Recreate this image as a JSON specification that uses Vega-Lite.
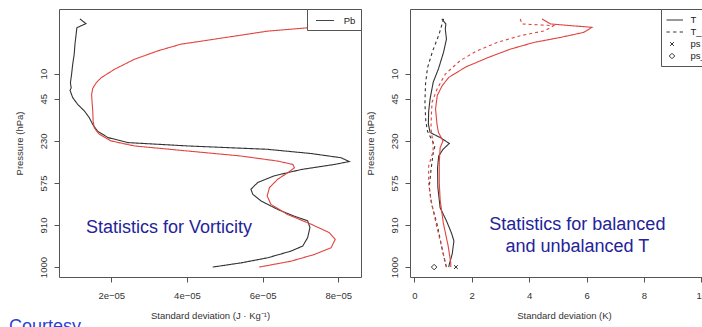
{
  "$schema": "https://vega.github.io/schema/vega-lite/v6.json",
  "background": "white",
  "padding": {"left": 8, "top": 8, "right": 0, "bottom": 0},
  "spacing": 49,
  "bounds": "flush",
  "datasets": {
    "vort": [
      {"method": "A", "series": "Pb", "level": 1.0, "sd": 1.17e-5},
      {"method": "A", "series": "Pb", "level": 2.1, "sd": 1.33e-5},
      {"method": "A", "series": "Pb", "level": 3.1, "sd": 1.09e-5},
      {"method": "A", "series": "Pb", "level": 4.7, "sd": 1.07e-5},
      {"method": "A", "series": "Pb", "level": 7.0, "sd": 1.04e-5},
      {"method": "A", "series": "Pb", "level": 9.4, "sd": 1.02e-5},
      {"method": "A", "series": "Pb", "level": 11.8, "sd": 0.98e-5},
      {"method": "A", "series": "Pb", "level": 14.2, "sd": 0.95e-5},
      {"method": "A", "series": "Pb", "level": 16.2, "sd": 0.92e-5},
      {"method": "A", "series": "Pb", "level": 17.4, "sd": 0.94e-5},
      {"method": "A", "series": "Pb", "level": 18.0, "sd": 0.91e-5},
      {"method": "A", "series": "Pb", "level": 19.7, "sd": 0.98e-5},
      {"method": "A", "series": "Pb", "level": 21.3, "sd": 1.11e-5},
      {"method": "A", "series": "Pb", "level": 22.9, "sd": 1.29e-5},
      {"method": "A", "series": "Pb", "level": 24.5, "sd": 1.42e-5},
      {"method": "A", "series": "Pb", "level": 26.1, "sd": 1.51e-5},
      {"method": "A", "series": "Pb", "level": 27.7, "sd": 1.64e-5},
      {"method": "A", "series": "Pb", "level": 29.2, "sd": 1.91e-5},
      {"method": "A", "series": "Pb", "level": 30.4, "sd": 2.43e-5},
      {"method": "A", "series": "Pb", "level": 31.2, "sd": 4.02e-5},
      {"method": "A", "series": "Pb", "level": 32.0, "sd": 6.13e-5},
      {"method": "A", "series": "Pb", "level": 33.0, "sd": 7.28e-5},
      {"method": "A", "series": "Pb", "level": 34.0, "sd": 8.07e-5},
      {"method": "A", "series": "Pb", "level": 34.9, "sd": 8.29e-5},
      {"method": "A", "series": "Pb", "level": 35.6, "sd": 7.90e-5},
      {"method": "A", "series": "Pb", "level": 36.8, "sd": 7.02e-5},
      {"method": "A", "series": "Pb", "level": 38.3, "sd": 6.31e-5},
      {"method": "A", "series": "Pb", "level": 39.9, "sd": 5.87e-5},
      {"method": "A", "series": "Pb", "level": 41.5, "sd": 5.69e-5},
      {"method": "A", "series": "Pb", "level": 42.7, "sd": 5.74e-5},
      {"method": "A", "series": "Pb", "level": 44.3, "sd": 5.96e-5},
      {"method": "A", "series": "Pb", "level": 46.3, "sd": 6.40e-5},
      {"method": "A", "series": "Pb", "level": 47.9, "sd": 6.84e-5},
      {"method": "A", "series": "Pb", "level": 49.0, "sd": 7.19e-5},
      {"method": "A", "series": "Pb", "level": 50.6, "sd": 7.25e-5},
      {"method": "A", "series": "Pb", "level": 53.0, "sd": 7.19e-5},
      {"method": "A", "series": "Pb", "level": 55.0, "sd": 7.06e-5},
      {"method": "A", "series": "Pb", "level": 56.2, "sd": 6.75e-5},
      {"method": "A", "series": "Pb", "level": 57.8, "sd": 6.13e-5},
      {"method": "A", "series": "Pb", "level": 59.0, "sd": 5.43e-5},
      {"method": "A", "series": "Pb", "level": 60.0, "sd": 4.68e-5},
      {"method": "B", "series": "Pb", "level": 3.1, "sd": 7.19e-5},
      {"method": "B", "series": "Pb", "level": 3.9, "sd": 6.13e-5},
      {"method": "B", "series": "Pb", "level": 5.1, "sd": 5.25e-5},
      {"method": "B", "series": "Pb", "level": 6.3, "sd": 4.37e-5},
      {"method": "B", "series": "Pb", "level": 7.0, "sd": 3.84e-5},
      {"method": "B", "series": "Pb", "level": 8.6, "sd": 3.23e-5},
      {"method": "B", "series": "Pb", "level": 10.6, "sd": 2.61e-5},
      {"method": "B", "series": "Pb", "level": 13.0, "sd": 2.08e-5},
      {"method": "B", "series": "Pb", "level": 15.0, "sd": 1.73e-5},
      {"method": "B", "series": "Pb", "level": 16.2, "sd": 1.60e-5},
      {"method": "B", "series": "Pb", "level": 17.5, "sd": 1.51e-5},
      {"method": "B", "series": "Pb", "level": 18.9, "sd": 1.48e-5},
      {"method": "B", "series": "Pb", "level": 20.5, "sd": 1.49e-5},
      {"method": "B", "series": "Pb", "level": 22.9, "sd": 1.51e-5},
      {"method": "B", "series": "Pb", "level": 25.3, "sd": 1.52e-5},
      {"method": "B", "series": "Pb", "level": 26.9, "sd": 1.55e-5},
      {"method": "B", "series": "Pb", "level": 28.4, "sd": 1.68e-5},
      {"method": "B", "series": "Pb", "level": 30.0, "sd": 1.99e-5},
      {"method": "B", "series": "Pb", "level": 31.2, "sd": 2.61e-5},
      {"method": "B", "series": "Pb", "level": 32.4, "sd": 4.02e-5},
      {"method": "B", "series": "Pb", "level": 33.6, "sd": 5.43e-5},
      {"method": "B", "series": "Pb", "level": 34.8, "sd": 6.40e-5},
      {"method": "B", "series": "Pb", "level": 35.6, "sd": 6.80e-5},
      {"method": "B", "series": "Pb", "level": 36.4, "sd": 6.84e-5},
      {"method": "B", "series": "Pb", "level": 37.6, "sd": 6.66e-5},
      {"method": "B", "series": "Pb", "level": 39.1, "sd": 6.40e-5},
      {"method": "B", "series": "Pb", "level": 41.1, "sd": 6.18e-5},
      {"method": "B", "series": "Pb", "level": 43.1, "sd": 6.12e-5},
      {"method": "B", "series": "Pb", "level": 45.1, "sd": 6.22e-5},
      {"method": "B", "series": "Pb", "level": 47.5, "sd": 6.66e-5},
      {"method": "B", "series": "Pb", "level": 49.8, "sd": 7.28e-5},
      {"method": "B", "series": "Pb", "level": 51.8, "sd": 7.76e-5},
      {"method": "B", "series": "Pb", "level": 53.4, "sd": 7.92e-5},
      {"method": "B", "series": "Pb", "level": 55.4, "sd": 7.81e-5},
      {"method": "B", "series": "Pb", "level": 57.0, "sd": 7.37e-5},
      {"method": "B", "series": "Pb", "level": 58.6, "sd": 6.75e-5},
      {"method": "B", "series": "Pb", "level": 60.0, "sd": 5.91e-5}
    ],
    "temp": [
      {"method": "A", "kind": "T", "level": 1.0, "sd": 0.96},
      {"method": "A", "kind": "T", "level": 2.2, "sd": 1.10},
      {"method": "A", "kind": "T", "level": 3.4, "sd": 1.08},
      {"method": "A", "kind": "T", "level": 5.8, "sd": 1.12},
      {"method": "A", "kind": "T", "level": 8.9, "sd": 1.02},
      {"method": "A", "kind": "T", "level": 12.9, "sd": 0.84},
      {"method": "A", "kind": "T", "level": 16.0, "sd": 0.66},
      {"method": "A", "kind": "T", "level": 20.0, "sd": 0.55},
      {"method": "A", "kind": "T", "level": 23.0, "sd": 0.50},
      {"method": "A", "kind": "T", "level": 26.0, "sd": 0.49},
      {"method": "A", "kind": "T", "level": 28.0, "sd": 0.55},
      {"method": "A", "kind": "T", "level": 29.2, "sd": 0.90},
      {"method": "A", "kind": "T", "level": 30.6, "sd": 1.22},
      {"method": "A", "kind": "T", "level": 32.0, "sd": 1.00},
      {"method": "A", "kind": "T", "level": 33.6, "sd": 0.85},
      {"method": "A", "kind": "T", "level": 36.4, "sd": 0.81},
      {"method": "A", "kind": "T", "level": 41.0, "sd": 0.82},
      {"method": "A", "kind": "T", "level": 45.9, "sd": 0.90},
      {"method": "A", "kind": "T", "level": 49.0, "sd": 1.12},
      {"method": "A", "kind": "T", "level": 52.0, "sd": 1.30},
      {"method": "A", "kind": "T", "level": 53.8, "sd": 1.38},
      {"method": "A", "kind": "T", "level": 56.9, "sd": 1.32},
      {"method": "A", "kind": "T", "level": 59.3, "sd": 1.22},
      {"method": "A", "kind": "T", "level": 60.0, "sd": 1.20},
      {"method": "A", "kind": "T_U", "level": 1.0, "sd": 1.02},
      {"method": "A", "kind": "T_U", "level": 4.7, "sd": 0.86},
      {"method": "A", "kind": "T_U", "level": 8.6, "sd": 0.64},
      {"method": "A", "kind": "T_U", "level": 12.6, "sd": 0.46},
      {"method": "A", "kind": "T_U", "level": 16.5, "sd": 0.39},
      {"method": "A", "kind": "T_U", "level": 21.0, "sd": 0.37},
      {"method": "A", "kind": "T_U", "level": 25.3, "sd": 0.40},
      {"method": "A", "kind": "T_U", "level": 27.7, "sd": 0.46},
      {"method": "A", "kind": "T_U", "level": 29.6, "sd": 0.60},
      {"method": "A", "kind": "T_U", "level": 31.2, "sd": 0.72},
      {"method": "A", "kind": "T_U", "level": 32.8, "sd": 0.66},
      {"method": "A", "kind": "T_U", "level": 37.0, "sd": 0.58},
      {"method": "A", "kind": "T_U", "level": 41.0, "sd": 0.52},
      {"method": "A", "kind": "T_U", "level": 45.0, "sd": 0.60},
      {"method": "A", "kind": "T_U", "level": 50.0, "sd": 0.80},
      {"method": "A", "kind": "T_U", "level": 55.0, "sd": 0.95},
      {"method": "A", "kind": "T_U", "level": 58.5, "sd": 1.06},
      {"method": "A", "kind": "T_U", "level": 60.0, "sd": 1.12},
      {"method": "B", "kind": "T", "level": 1.0, "sd": 4.45},
      {"method": "B", "kind": "T", "level": 2.2, "sd": 4.74},
      {"method": "B", "kind": "T", "level": 3.0, "sd": 6.19},
      {"method": "B", "kind": "T", "level": 4.2, "sd": 5.90},
      {"method": "B", "kind": "T", "level": 5.4, "sd": 5.09},
      {"method": "B", "kind": "T", "level": 6.6, "sd": 4.16},
      {"method": "B", "kind": "T", "level": 8.2, "sd": 3.34},
      {"method": "B", "kind": "T", "level": 10.1, "sd": 2.60},
      {"method": "B", "kind": "T", "level": 12.4, "sd": 1.80},
      {"method": "B", "kind": "T", "level": 14.9, "sd": 1.20},
      {"method": "B", "kind": "T", "level": 16.9, "sd": 0.97},
      {"method": "B", "kind": "T", "level": 19.2, "sd": 0.80},
      {"method": "B", "kind": "T", "level": 22.4, "sd": 0.74},
      {"method": "B", "kind": "T", "level": 26.0, "sd": 0.79},
      {"method": "B", "kind": "T", "level": 28.0, "sd": 0.84},
      {"method": "B", "kind": "T", "level": 30.0, "sd": 1.00},
      {"method": "B", "kind": "T", "level": 31.6, "sd": 0.90},
      {"method": "B", "kind": "T", "level": 35.0, "sd": 0.87},
      {"method": "B", "kind": "T", "level": 40.0, "sd": 0.87},
      {"method": "B", "kind": "T", "level": 44.0, "sd": 0.90},
      {"method": "B", "kind": "T", "level": 49.5, "sd": 1.01},
      {"method": "B", "kind": "T", "level": 55.0, "sd": 1.18},
      {"method": "B", "kind": "T", "level": 59.0, "sd": 1.27},
      {"method": "B", "kind": "T", "level": 60.0, "sd": 1.27},
      {"method": "B", "kind": "T_U", "level": 1.0, "sd": 3.69},
      {"method": "B", "kind": "T_U", "level": 2.2, "sd": 3.75},
      {"method": "B", "kind": "T_U", "level": 2.6, "sd": 4.85},
      {"method": "B", "kind": "T_U", "level": 3.8, "sd": 4.55},
      {"method": "B", "kind": "T_U", "level": 5.0, "sd": 3.69},
      {"method": "B", "kind": "T_U", "level": 6.6, "sd": 2.88},
      {"method": "B", "kind": "T_U", "level": 8.6, "sd": 2.18},
      {"method": "B", "kind": "T_U", "level": 10.9, "sd": 1.60},
      {"method": "B", "kind": "T_U", "level": 14.1, "sd": 1.08},
      {"method": "B", "kind": "T_U", "level": 17.7, "sd": 0.79},
      {"method": "B", "kind": "T_U", "level": 20.8, "sd": 0.62},
      {"method": "B", "kind": "T_U", "level": 23.0, "sd": 0.60},
      {"method": "B", "kind": "T_U", "level": 27.0, "sd": 0.58},
      {"method": "B", "kind": "T_U", "level": 30.0, "sd": 0.64},
      {"method": "B", "kind": "T_U", "level": 32.4, "sd": 0.66},
      {"method": "B", "kind": "T_U", "level": 36.0, "sd": 0.50},
      {"method": "B", "kind": "T_U", "level": 40.0, "sd": 0.50},
      {"method": "B", "kind": "T_U", "level": 44.0, "sd": 0.58},
      {"method": "B", "kind": "T_U", "level": 50.0, "sd": 0.77},
      {"method": "B", "kind": "T_U", "level": 56.6, "sd": 1.00},
      {"method": "B", "kind": "T_U", "level": 60.0, "sd": 1.12}
    ],
    "tpoints": [
      {"series": "ps", "level": 60.0, "sd": 1.45},
      {"series": "ps_U", "level": 60.0, "sd": 0.69}
    ]
  },
  "hconcat": [
    {
      "width": 302,
      "height": 268,
      "layer": [
        {
          "data": {"name": "vort"},
          "mark": {"type": "line", "strokeWidth": 1.1},
          "encoding": {
            "x": {"field": "sd", "type": "quantitative",
              "scale": {"domain": [0.618e-5, 8.60e-5], "nice": false, "zero": false},
              "axis": {"values": [2e-5, 4e-5, 6e-5, 8e-5],
                "labelExpr": "replace(format(datum.value, '.0e'), 'e-', 'e−0')",
                "title": "Standard deviation (J · Kg⁻¹)"}},
            "y": {"field": "level", "type": "quantitative",
              "scale": {"domain": [-1.36, 62.36], "reverse": true, "nice": false, "zero": false},
              "axis": {"values": [14, 20, 30, 40, 50, 60],
                "labelExpr": "datum.value == 14 ? '10' : datum.value == 20 ? '45' : datum.value == 30 ? '230' : datum.value == 40 ? '575' : datum.value == 50 ? '910' : '1000'",
                "labelAngle": 270, "labelAlign": "center", "labelBaseline": "bottom",
                "labelPadding": 6, "titlePadding": 14,
                "title": "Pressure (hPa)"}},
            "color": {"field": "method", "type": "nominal",
              "scale": {"domain": ["A", "B"], "range": ["#333333", "#e0443f"]}, "legend": null},
            "strokeDash": {"field": "series", "type": "nominal",
              "scale": {"domain": ["Pb"], "range": [[1, 0]]},
              "legend": {"title": null, "orient": "top-right", "offset": 0, "padding": 5,
                "symbolType": "M-0.4,0L2.6,0", "symbolSize": 144, "symbolStrokeColor": "#333333",
                "symbolStrokeWidth": 1, "labelOffset": 18.7}},
            "order": {"field": "level", "type": "quantitative"}
          }
        },
        {
          "data": {"values": [{"label": "Statistics for Vorticity"}]},
          "mark": {"type": "text", "fontSize": 18, "color": "#23239a", "align": "center", "baseline": "middle"},
          "encoding": {
            "x": {"datum": 3.525e-5, "type": "quantitative"},
            "y": {"datum": 50.7, "type": "quantitative"},
            "text": {"field": "label"}
          }
        },
        {
          "data": {"values": [{"label": "Courtesy"}]},
          "mark": {"type": "text", "fontSize": 18, "color": "#2a3fd8", "align": "left", "baseline": "alphabetic"},
          "encoding": {
            "x": {"datum": -0.704e-5, "type": "quantitative"},
            "y": {"datum": 75.4, "type": "quantitative"},
            "text": {"field": "label"}
          }
        }
      ]
    },
    {
      "width": 308,
      "height": 268,
      "layer": [
        {
          "data": {"name": "temp"},
          "mark": {"type": "line", "strokeWidth": 1.1},
          "encoding": {
            "x": {"field": "sd", "type": "quantitative",
              "scale": {"domain": [-0.15, 10.58], "nice": false, "zero": false},
              "axis": {"values": [0, 2, 4, 6, 8, 10], "format": "d",
                "title": "Standard deviation (K)"}},
            "y": {"field": "level", "type": "quantitative",
              "scale": {"domain": [-1.36, 62.36], "reverse": true, "nice": false, "zero": false},
              "axis": {"values": [14, 20, 30, 40, 50, 60],
                "labelExpr": "datum.value == 14 ? '10' : datum.value == 20 ? '45' : datum.value == 30 ? '230' : datum.value == 40 ? '575' : datum.value == 50 ? '910' : '1000'",
                "labelAngle": 270, "labelAlign": "center", "labelBaseline": "bottom",
                "labelPadding": 6, "titlePadding": 14,
                "title": "Pressure (hPa)"}},
            "color": {"field": "method", "type": "nominal",
              "scale": {"domain": ["A", "B"], "range": ["#333333", "#e0443f"]}, "legend": null},
            "strokeDash": {"field": "kind", "type": "nominal",
              "scale": {"domain": ["T", "T_U"], "range": [[1, 0], [3, 3]]}, "legend": null},
            "order": {"field": "level", "type": "quantitative"}
          }
        },
        {
          "data": {"name": "tpoints"},
          "mark": {"type": "point", "filled": false, "color": "#333333", "size": 121, "strokeWidth": 1, "opacity": 1},
          "encoding": {
            "x": {"field": "sd", "type": "quantitative"},
            "y": {"field": "level", "type": "quantitative"},
            "shape": {"field": "series", "type": "nominal",
              "scale": {"domain": ["T", "T_U", "ps", "ps_U"],
                "range": ["M-1,0L2,0", "M-1,0L-0.4,0M0.2,0L0.8,0M1.4,0L2,0", "M-0.34,-0.34L0.34,0.34M-0.34,0.34L0.34,-0.34", "M0,-0.5L0.5,0L0,0.5L-0.5,0Z"]},
              "legend": {"title": null, "orient": "top-right", "offset": 0, "padding": 5,
                "symbolSize": 121, "symbolStrokeColor": "#333333", "symbolFillColor": "transparent",
                "symbolStrokeWidth": 1, "labelOffset": 12.5, "rowPadding": 1}}
          }
        },
        {
          "data": {"values": [{"label": "x"}]},
          "mark": {"type": "text", "fontSize": 18, "color": "#23239a", "align": "center", "baseline": "middle", "lineHeight": 22},
          "encoding": {
            "x": {"datum": 5.68, "type": "quantitative"},
            "y": {"datum": 50.0, "type": "quantitative"},
            "text": {"value": ["Statistics for balanced", "and unbalanced T"]}
          }
        }
      ]
    }
  ],
  "resolve": {"scale": {"color": "independent", "strokeDash": "independent", "shape": "independent", "x": "independent", "y": "independent"}},
  "config": {
    "view": {"stroke": "#555555", "strokeWidth": 1},
    "axis": {"domain": false, "grid": false, "ticks": true, "tickColor": "#555555", "tickSize": 5,
      "labelFont": "Liberation Sans", "labelFontSize": 9.5, "labelColor": "#333333",
      "titleFont": "Liberation Sans", "titleFontSize": 9.5, "titleFontWeight": "normal", "titleColor": "#333333"},
    "axisX": {"labelPadding": 8, "titlePadding": 11},
    "legend": {"strokeColor": "#555555", "fillColor": "white", "labelFont": "Liberation Sans",
      "labelFontSize": 9.5, "labelColor": "#222222", "cornerRadius": 0},
    "text": {"font": "Liberation Sans"}
  }
}
